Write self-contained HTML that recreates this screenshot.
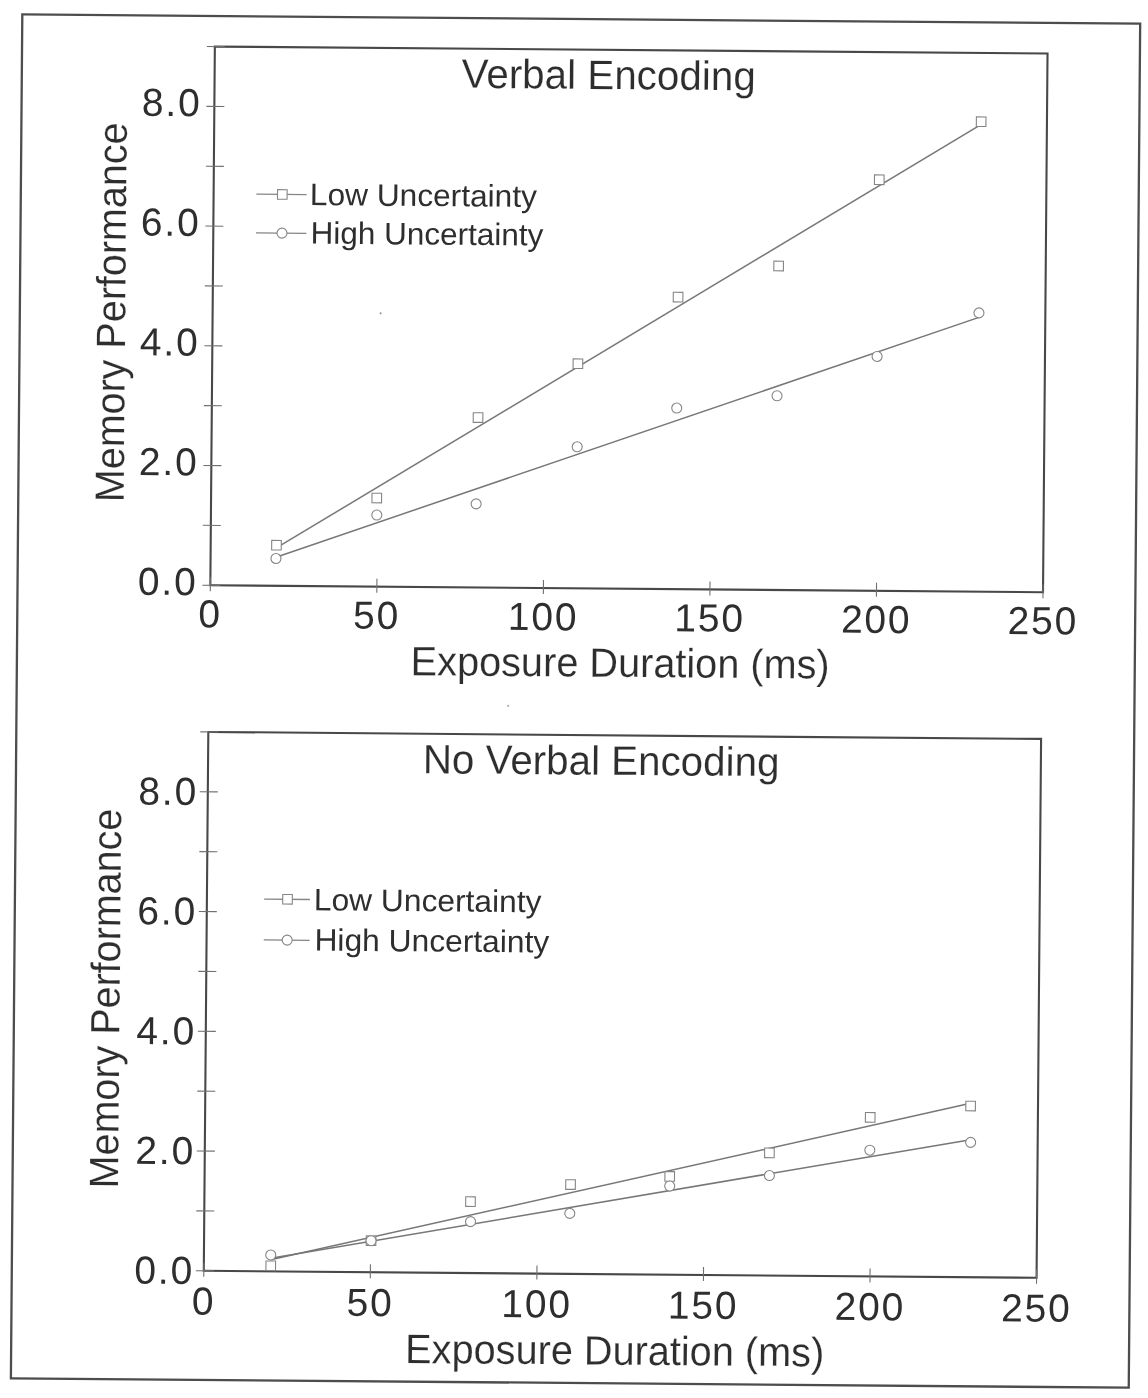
<!DOCTYPE html>
<html><head><meta charset="utf-8"><title>Memory Performance</title>
<style>html,body{margin:0;padding:0;background:#ffffff;} svg{display:block;will-change:transform;} text{font-family:"Liberation Sans", sans-serif;} .b{stroke:#fff;stroke-width:0.15px;} .l{stroke:#fff;stroke-width:0.0px;} .k{stroke:#fff;stroke-width:0.0px;}</style></head>
<body><svg width="1148" height="1398" viewBox="0 0 1148 1398">
<rect x="0" y="0" width="1148" height="1398" fill="#ffffff"/>
<g transform="rotate(0.48 574 699)">
<rect x="16.6" y="19" width="1117.9" height="1364" fill="none" stroke="#4d4d4d" stroke-width="2.3"/>
<rect x="209.4" y="49.6" width="832.7" height="538.7" fill="none" stroke="#484848" stroke-width="2.1"/>
<line x1="201.4" y1="588.3" x2="219.4" y2="588.3" stroke="#707070" stroke-width="1.1"/>
<line x1="201.4" y1="528.44" x2="219.4" y2="528.44" stroke="#707070" stroke-width="1.1"/>
<line x1="201.4" y1="468.59" x2="219.4" y2="468.59" stroke="#707070" stroke-width="1.1"/>
<line x1="201.4" y1="408.73" x2="219.4" y2="408.73" stroke="#707070" stroke-width="1.1"/>
<line x1="201.4" y1="348.88" x2="219.4" y2="348.88" stroke="#707070" stroke-width="1.1"/>
<line x1="201.4" y1="289.02" x2="219.4" y2="289.02" stroke="#707070" stroke-width="1.1"/>
<line x1="201.4" y1="229.17" x2="219.4" y2="229.17" stroke="#707070" stroke-width="1.1"/>
<line x1="201.4" y1="169.31" x2="219.4" y2="169.31" stroke="#707070" stroke-width="1.1"/>
<line x1="201.4" y1="109.46" x2="219.4" y2="109.46" stroke="#707070" stroke-width="1.1"/>
<line x1="201.4" y1="49.6" x2="219.4" y2="49.6" stroke="#707070" stroke-width="1.1"/>
<line x1="209.4" y1="580.3" x2="209.4" y2="594.3" stroke="#707070" stroke-width="1.1"/>
<line x1="375.94" y1="580.3" x2="375.94" y2="594.3" stroke="#707070" stroke-width="1.1"/>
<line x1="542.48" y1="580.3" x2="542.48" y2="594.3" stroke="#707070" stroke-width="1.1"/>
<line x1="709.02" y1="580.3" x2="709.02" y2="594.3" stroke="#707070" stroke-width="1.1"/>
<line x1="875.56" y1="580.3" x2="875.56" y2="594.3" stroke="#707070" stroke-width="1.1"/>
<line x1="1042.1" y1="580.3" x2="1042.1" y2="594.3" stroke="#707070" stroke-width="1.1"/>
<text x="196.6" y="598.3" class="k" text-anchor="end" font-size="39" letter-spacing="1.8" fill="#2e2e2e">0.0</text>
<text x="196.6" y="478.59" class="k" text-anchor="end" font-size="39" letter-spacing="1.8" fill="#2e2e2e">2.0</text>
<text x="196.6" y="358.88" class="k" text-anchor="end" font-size="39" letter-spacing="1.8" fill="#2e2e2e">4.0</text>
<text x="196.6" y="239.17" class="k" text-anchor="end" font-size="39" letter-spacing="1.8" fill="#2e2e2e">6.0</text>
<text x="196.6" y="119.46" class="k" text-anchor="end" font-size="39" letter-spacing="1.8" fill="#2e2e2e">8.0</text>
<text x="209.4" y="630.3" class="k" text-anchor="middle" font-size="39" letter-spacing="1.8" fill="#2e2e2e">0</text>
<text x="375.94" y="630.3" class="k" text-anchor="middle" font-size="39" letter-spacing="1.8" fill="#2e2e2e">50</text>
<text x="542.48" y="630.3" class="k" text-anchor="middle" font-size="39" letter-spacing="1.8" fill="#2e2e2e">100</text>
<text x="709.02" y="630.3" class="k" text-anchor="middle" font-size="39" letter-spacing="1.8" fill="#2e2e2e">150</text>
<text x="875.56" y="630.3" class="k" text-anchor="middle" font-size="39" letter-spacing="1.8" fill="#2e2e2e">200</text>
<text x="1042.1" y="630.3" class="k" text-anchor="middle" font-size="39" letter-spacing="1.8" fill="#2e2e2e">250</text>
<text x="456.4" y="88.8" class="b" font-size="41" textLength="294.1" lengthAdjust="spacingAndGlyphs" fill="#2e2e2e">Verbal Encoding</text>
<text x="410.4" y="676.5" class="b" font-size="41" textLength="419" lengthAdjust="spacingAndGlyphs" fill="#2e2e2e">Exposure Duration (ms)</text>
<text transform="translate(122,506) rotate(-90)" x="0" y="0" class="b" font-size="41" textLength="379.6" lengthAdjust="spacingAndGlyphs" fill="#2e2e2e">Memory Performance</text>
<line x1="274.7" y1="550.7" x2="975.2" y2="121.8" stroke="#777777" stroke-width="1.5"/>
<line x1="274.8" y1="559.7" x2="975.8" y2="314" stroke="#777777" stroke-width="1.5"/>
<rect x="270.4" y="542.9" width="9.6" height="9.6" fill="#fff" stroke="#858585" stroke-width="1.1"/>
<rect x="370.3" y="494.9" width="9.6" height="9.6" fill="#fff" stroke="#858585" stroke-width="1.1"/>
<rect x="470.9" y="413.6" width="9.6" height="9.6" fill="#fff" stroke="#858585" stroke-width="1.1"/>
<rect x="570.3" y="358.9" width="9.6" height="9.6" fill="#fff" stroke="#858585" stroke-width="1.1"/>
<rect x="669.9" y="291.5" width="9.6" height="9.6" fill="#fff" stroke="#858585" stroke-width="1.1"/>
<rect x="770.2" y="259.5" width="9.6" height="9.6" fill="#fff" stroke="#858585" stroke-width="1.1"/>
<rect x="870.1" y="172.4" width="9.6" height="9.6" fill="#fff" stroke="#858585" stroke-width="1.1"/>
<rect x="971.5" y="113.5" width="9.6" height="9.6" fill="#fff" stroke="#858585" stroke-width="1.1"/>
<circle cx="274.8" cy="561" r="5" fill="#fff" stroke="#858585" stroke-width="1.1"/>
<circle cx="375.3" cy="516.7" r="5" fill="#fff" stroke="#858585" stroke-width="1.1"/>
<circle cx="474.5" cy="504.7" r="5" fill="#fff" stroke="#858585" stroke-width="1.1"/>
<circle cx="575.1" cy="446.8" r="5" fill="#fff" stroke="#858585" stroke-width="1.1"/>
<circle cx="674.3" cy="407.2" r="5" fill="#fff" stroke="#858585" stroke-width="1.1"/>
<circle cx="774.5" cy="394.1" r="5" fill="#fff" stroke="#858585" stroke-width="1.1"/>
<circle cx="874.2" cy="353.9" r="5" fill="#fff" stroke="#858585" stroke-width="1.1"/>
<circle cx="975.7" cy="309.5" r="5" fill="#fff" stroke="#858585" stroke-width="1.1"/>
<line x1="252.1" y1="196.9" x2="302.4" y2="196.9" stroke="#858585" stroke-width="1.3"/>
<rect x="273.3" y="192.1" width="9.6" height="9.6" fill="#fff" stroke="#858585" stroke-width="1.1"/>
<text x="305.7" y="207.3" class="l" font-size="31" textLength="227" lengthAdjust="spacingAndGlyphs" fill="#2e2e2e">Low Uncertainty</text>
<line x1="252.1" y1="235.6" x2="302.4" y2="235.6" stroke="#858585" stroke-width="1.3"/>
<circle cx="278.1" cy="235.6" r="5" fill="#fff" stroke="#858585" stroke-width="1.1"/>
<text x="306.7" y="245.8" class="l" font-size="31" textLength="232.8" lengthAdjust="spacingAndGlyphs" fill="#2e2e2e">High Uncertainty</text>
<rect x="208.6" y="735" width="832.8" height="538.9" fill="none" stroke="#484848" stroke-width="2.1"/>
<line x1="200.6" y1="1273.9" x2="218.6" y2="1273.9" stroke="#707070" stroke-width="1.1"/>
<line x1="200.6" y1="1214.02" x2="218.6" y2="1214.02" stroke="#707070" stroke-width="1.1"/>
<line x1="200.6" y1="1154.14" x2="218.6" y2="1154.14" stroke="#707070" stroke-width="1.1"/>
<line x1="200.6" y1="1094.27" x2="218.6" y2="1094.27" stroke="#707070" stroke-width="1.1"/>
<line x1="200.6" y1="1034.39" x2="218.6" y2="1034.39" stroke="#707070" stroke-width="1.1"/>
<line x1="200.6" y1="974.51" x2="218.6" y2="974.51" stroke="#707070" stroke-width="1.1"/>
<line x1="200.6" y1="914.63" x2="218.6" y2="914.63" stroke="#707070" stroke-width="1.1"/>
<line x1="200.6" y1="854.76" x2="218.6" y2="854.76" stroke="#707070" stroke-width="1.1"/>
<line x1="200.6" y1="794.88" x2="218.6" y2="794.88" stroke="#707070" stroke-width="1.1"/>
<line x1="200.6" y1="735" x2="218.6" y2="735" stroke="#707070" stroke-width="1.1"/>
<line x1="208.6" y1="1265.9" x2="208.6" y2="1279.9" stroke="#707070" stroke-width="1.1"/>
<line x1="375.16" y1="1265.9" x2="375.16" y2="1279.9" stroke="#707070" stroke-width="1.1"/>
<line x1="541.72" y1="1265.9" x2="541.72" y2="1279.9" stroke="#707070" stroke-width="1.1"/>
<line x1="708.28" y1="1265.9" x2="708.28" y2="1279.9" stroke="#707070" stroke-width="1.1"/>
<line x1="874.84" y1="1265.9" x2="874.84" y2="1279.9" stroke="#707070" stroke-width="1.1"/>
<line x1="1041.4" y1="1265.9" x2="1041.4" y2="1279.9" stroke="#707070" stroke-width="1.1"/>
<text x="198.9" y="1287.2" class="k" text-anchor="end" font-size="39" letter-spacing="1.8" fill="#2e2e2e">0.0</text>
<text x="198.9" y="1167.44" class="k" text-anchor="end" font-size="39" letter-spacing="1.8" fill="#2e2e2e">2.0</text>
<text x="198.9" y="1047.69" class="k" text-anchor="end" font-size="39" letter-spacing="1.8" fill="#2e2e2e">4.0</text>
<text x="198.9" y="927.93" class="k" text-anchor="end" font-size="39" letter-spacing="1.8" fill="#2e2e2e">6.0</text>
<text x="198.9" y="808.18" class="k" text-anchor="end" font-size="39" letter-spacing="1.8" fill="#2e2e2e">8.0</text>
<text x="208.6" y="1317.6" class="k" text-anchor="middle" font-size="39" letter-spacing="1.8" fill="#2e2e2e">0</text>
<text x="375.16" y="1317.6" class="k" text-anchor="middle" font-size="39" letter-spacing="1.8" fill="#2e2e2e">50</text>
<text x="541.72" y="1317.6" class="k" text-anchor="middle" font-size="39" letter-spacing="1.8" fill="#2e2e2e">100</text>
<text x="708.28" y="1317.6" class="k" text-anchor="middle" font-size="39" letter-spacing="1.8" fill="#2e2e2e">150</text>
<text x="874.84" y="1317.6" class="k" text-anchor="middle" font-size="39" letter-spacing="1.8" fill="#2e2e2e">200</text>
<text x="1041.4" y="1317.6" class="k" text-anchor="middle" font-size="39" letter-spacing="1.8" fill="#2e2e2e">250</text>
<text x="423.3" y="774.5" class="b" font-size="41" textLength="356.7" lengthAdjust="spacingAndGlyphs" fill="#2e2e2e">No Verbal Encoding</text>
<text x="410.7" y="1364.3" class="b" font-size="41" textLength="419" lengthAdjust="spacingAndGlyphs" fill="#2e2e2e">Exposure Duration (ms)</text>
<text transform="translate(122.2,1192.2) rotate(-90)" x="0" y="0" class="b" font-size="41" textLength="379.6" lengthAdjust="spacingAndGlyphs" fill="#2e2e2e">Memory Performance</text>
<line x1="275.4" y1="1262.3" x2="974" y2="1100" stroke="#777777" stroke-width="1.5"/>
<line x1="275.4" y1="1260.7" x2="974.3" y2="1136.3" stroke="#777777" stroke-width="1.5"/>
<rect x="270.7" y="1263.5" width="9.6" height="9.6" fill="#fff" stroke="#858585" stroke-width="1.1"/>
<rect x="370.8" y="1237.6" width="9.6" height="9.6" fill="#fff" stroke="#858585" stroke-width="1.1"/>
<rect x="469.9" y="1197.7" width="9.6" height="9.6" fill="#fff" stroke="#858585" stroke-width="1.1"/>
<rect x="569.8" y="1179.8" width="9.6" height="9.6" fill="#fff" stroke="#858585" stroke-width="1.1"/>
<rect x="668.9" y="1170.8" width="9.6" height="9.6" fill="#fff" stroke="#858585" stroke-width="1.1"/>
<rect x="768.4" y="1146.4" width="9.6" height="9.6" fill="#fff" stroke="#858585" stroke-width="1.1"/>
<rect x="868.9" y="1110.1" width="9.6" height="9.6" fill="#fff" stroke="#858585" stroke-width="1.1"/>
<rect x="969.2" y="1097.9" width="9.6" height="9.6" fill="#fff" stroke="#858585" stroke-width="1.1"/>
<circle cx="275.4" cy="1257.5" r="5" fill="#fff" stroke="#858585" stroke-width="1.1"/>
<circle cx="375.6" cy="1242.4" r="5" fill="#fff" stroke="#858585" stroke-width="1.1"/>
<circle cx="474.9" cy="1222.5" r="5" fill="#fff" stroke="#858585" stroke-width="1.1"/>
<circle cx="574.1" cy="1213.4" r="5" fill="#fff" stroke="#858585" stroke-width="1.1"/>
<circle cx="673.8" cy="1185.2" r="5" fill="#fff" stroke="#858585" stroke-width="1.1"/>
<circle cx="773.4" cy="1173.9" r="5" fill="#fff" stroke="#858585" stroke-width="1.1"/>
<circle cx="873.6" cy="1147.7" r="5" fill="#fff" stroke="#858585" stroke-width="1.1"/>
<circle cx="974.3" cy="1139" r="5" fill="#fff" stroke="#858585" stroke-width="1.1"/>
<line x1="265.8" y1="901.7" x2="311.6" y2="901.7" stroke="#858585" stroke-width="1.3"/>
<rect x="284.4" y="896.9" width="9.6" height="9.6" fill="#fff" stroke="#858585" stroke-width="1.1"/>
<text x="315.6" y="912.5" class="l" font-size="31" textLength="227.6" lengthAdjust="spacingAndGlyphs" fill="#2e2e2e">Low Uncertainty</text>
<line x1="265.8" y1="942.5" x2="311.6" y2="942.5" stroke="#858585" stroke-width="1.3"/>
<circle cx="289.2" cy="942.5" r="5" fill="#fff" stroke="#858585" stroke-width="1.1"/>
<text x="316.5" y="952.7" class="l" font-size="31" textLength="234.8" lengthAdjust="spacingAndGlyphs" fill="#2e2e2e">High Uncertainty</text>
</g>
<circle cx="380.6" cy="313.3" r="1.1" fill="#9a9a9a"/>
<circle cx="508.2" cy="705.8" r="1.1" fill="#aaaaaa"/>
</svg></body></html>
